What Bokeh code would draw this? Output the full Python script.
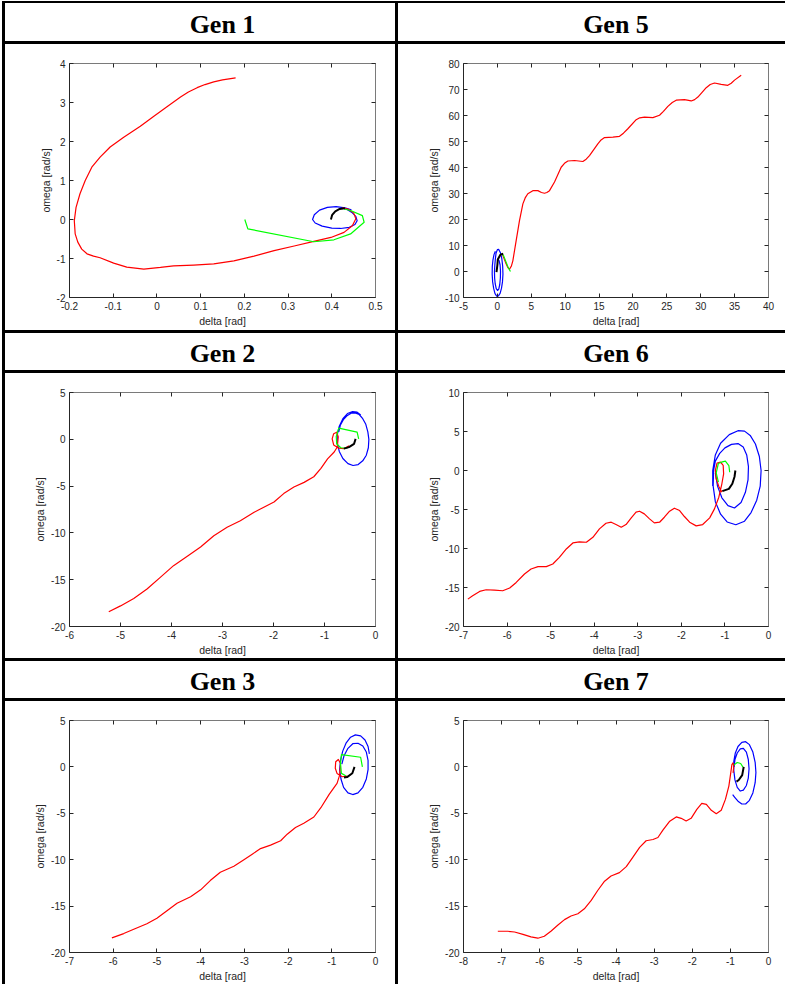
from bokeh.plotting import figure
from bokeh.models import Range1d, FixedTicker, CustomJSTickFormatter, LinearAxis, GridBox
from bokeh.core.properties import value
from bokeh.embed import file_html
from bokeh.resources import INLINE

# ---------------- data ----------------
titles = ["Gen 1", "Gen 5", "Gen 2", "Gen 6", "Gen 3", "Gen 7"]
x_label = "delta [rad]"
y_label = "omega [rad/s]"

g1_xlim = [-0.2, 0.5]
g1_ylim = [-2, 4]
g1_xticks = [-0.2, -0.1, 0, 0.1, 0.2, 0.3, 0.4, 0.5]
g1_yticks = [-2, -1, 0, 1, 2, 3, 4]
g1_red = [(0.18, 3.63), (0.15, 3.58), (0.13, 3.53), (0.11, 3.46), (0.092, 3.38), (0.072, 3.27),
          (0.054, 3.14), (0.023, 2.89), (-0.007, 2.65), (-0.038, 2.39), (-0.076, 2.11), (-0.107, 1.86),
          (-0.130, 1.60), (-0.149, 1.34), (-0.164, 1.0), (-0.176, 0.66), (-0.185, 0.31), (-0.189, -0.03),
          (-0.187, -0.37), (-0.181, -0.58), (-0.172, -0.76), (-0.160, -0.88), (-0.145, -0.94),
          (-0.130, -0.98), (-0.099, -1.12), (-0.069, -1.22), (-0.030, -1.27), (0.008, -1.23),
          (0.038, -1.19), (0.084, -1.17), (0.130, -1.14), (0.176, -1.06), (0.222, -0.94), (0.268, -0.80),
          (0.314, -0.68), (0.359, -0.56), (0.398, -0.46), (0.428, -0.33), (0.447, -0.16), (0.455, 0.02),
          (0.450, 0.17), (0.437, 0.27), (0.424, 0.30)]
g1_blue = [(0.445, 0.25), (0.43, 0.30), (0.41, 0.33), (0.39, 0.31), (0.372, 0.24), (0.36, 0.12),
           (0.356, 0.0), (0.362, -0.09), (0.378, -0.17), (0.40, -0.22), (0.42, -0.23), (0.44, -0.2),
           (0.453, -0.13), (0.458, -0.03), (0.455, 0.08), (0.447, 0.17), (0.436, 0.25), (0.428, 0.29)]
g1_green = [(0.201, 0.0), (0.208, -0.24), (0.359, -0.57), (0.405, -0.52), (0.443, -0.37),
            (0.474, -0.07), (0.470, 0.10), (0.443, 0.23), (0.428, 0.27)]
g1_black = [(0.398, 0.0), (0.401, 0.12), (0.408, 0.21), (0.418, 0.27), (0.43, 0.29)]

g5_xlim = [-5, 40]
g5_ylim = [-10, 80]
g5_xticks = [-5, 0, 5, 10, 15, 20, 25, 30, 35, 40]
g5_yticks = [-10, 0, 10, 20, 30, 40, 50, 60, 70, 80]
g5_red = [(0.71, 6.8), (1.2, 3.5), (1.54, 1.5), (1.79, 0.9), (2.05, 2.0), (2.28, 4.1), (2.77, 11.9),
          (3.26, 19.6), (3.76, 26.0), (4.1, 28.3), (4.49, 29.9), (5.23, 31.1), (5.97, 31.1), (6.5, 30.4),
          (6.95, 30.1), (7.3, 30.4), (7.69, 31.1), (8.43, 34.4), (9.41, 40.1), (9.9, 41.6), (10.40, 42.5),
          (11.38, 42.7), (12.61, 42.3), (13.1, 43.2), (13.59, 44.6), (14.82, 49.1), (15.3, 50.6),
          (15.81, 51.5), (17.04, 51.7), (18.02, 52.0), (18.6, 53.2), (19.25, 54.9), (20.48, 58.4),
          (21.0, 59.1), (21.71, 59.4), (22.94, 59.2), (23.92, 60.1), (24.5, 61.6), (25.15, 63.5),
          (25.8, 65.0), (26.38, 65.9), (27.61, 66.1), (28.60, 65.6), (29.1, 66.1), (29.58, 67.1),
          (30.2, 68.9), (30.81, 70.7), (31.4, 71.9), (32.04, 72.5), (33.02, 72.0), (34.0, 71.6),
          (34.5, 72.4), (34.99, 73.6), (35.97, 75.5)]
g5_blue = [(0.05, 4.9), (0.25, 4.2), (0.4, 2.5), (0.46, 0.0), (0.44, -2.5), (0.35, -5.0), (0.2, -6.8),
           (0.02, -7.3), (-0.17, -6.6), (-0.32, -4.8), (-0.41, -2.5), (-0.43, 0.0), (-0.38, 2.5),
           (-0.3, 4.8), (-0.2, 7.0), (0.0, 8.4), (0.2, 8.5), (0.45, 7.2), (0.65, 5.0), (0.78, 2.0),
           (0.82, -1.0), (0.75, -4.0), (0.6, -6.5), (0.4, -8.4), (0.15, -9.4), (-0.1, -9.5),
           (-0.35, -8.5), (-0.55, -6.5), (-0.7, -4.0), (-0.77, -1.0), (-0.75, 2.0), (-0.65, 4.5),
           (-0.5, 6.5), (-0.3, 7.8)]
g5_green = [(0.56, 6.8), (0.9, 6.2), (1.3, 3.5), (1.6, 1.5), (1.93, 0.0)]
g5_black = [(-0.13, -0.27), (0.0, 2.5), (0.06, 4.6), (0.46, 6.5), (0.86, 6.8)]

g2_xlim = [-6, 0]
g2_ylim = [-20, 5]
g2_xticks = [-6, -5, -4, -3, -2, -1, 0]
g2_yticks = [-20, -15, -10, -5, 0, 5]
g2_red = [(-5.23, -18.43), (-5.0, -17.8), (-4.74, -17.0), (-4.48, -16.0), (-4.22, -14.75), (-3.96, -13.5),
          (-3.69, -12.5), (-3.43, -11.5), (-3.17, -10.3), (-2.91, -9.4), (-2.65, -8.7), (-2.38, -7.8),
          (-2.19, -7.25), (-1.99, -6.7), (-1.80, -5.8), (-1.60, -5.1), (-1.40, -4.6), (-1.21, -4.0),
          (-1.07, -3.1), (-0.94, -2.1), (-0.81, -1.36), (-0.75, -0.82), (-0.73, 0.25), (-0.76, 0.76),
          (-0.82, 0.6), (-0.85, 0.05), (-0.82, -0.6), (-0.72, -0.95), (-0.62, -1.0), (-0.52, -0.7)]
g2_blue = [(-0.72, 0.8), (-0.69, 1.5), (-0.63, 2.1), (-0.55, 2.55), (-0.47, 2.8), (-0.40, 2.82),
           (-0.32, 2.65), (-0.25, 2.2), (-0.19, 1.6), (-0.15, 0.8), (-0.13, 0.0), (-0.14, -0.9),
           (-0.18, -1.7), (-0.25, -2.3), (-0.34, -2.7), (-0.44, -2.8), (-0.54, -2.6), (-0.64, -2.05),
           (-0.71, -1.3), (-0.75, -0.4), (-0.75, 0.5), (-0.71, 1.4), (-0.64, 2.2), (-0.55, 2.75),
           (-0.45, 2.95), (-0.36, 2.9), (-0.29, 2.6)]
g2_green = [(-0.55, -0.95), (-0.68, -0.9), (-0.76, -0.5), (-0.77, 0.3), (-0.72, 1.19), (-0.36, 0.76),
            (-0.33, 0.05)]
g2_black = [(-0.39, 0.05), (-0.42, -0.48), (-0.52, -0.84), (-0.62, -1.0)]

g6_xlim = [-7, 0]
g6_ylim = [-20, 10]
g6_xticks = [-7, -6, -5, -4, -3, -2, -1, 0]
g6_yticks = [-20, -15, -10, -5, 0, 5, 10]
g6_red = [(-6.90, -16.49), (-6.79, -16.06), (-6.63, -15.50), (-6.48, -15.29), (-6.29, -15.33),
          (-6.10, -15.42), (-5.94, -15.07), (-5.79, -14.35), (-5.60, -13.27), (-5.45, -12.63),
          (-5.29, -12.33), (-5.10, -12.33), (-4.95, -11.99), (-4.80, -11.13), (-4.64, -10.06),
          (-4.49, -9.29), (-4.34, -9.16), (-4.18, -9.20), (-4.03, -8.56), (-3.88, -7.49), (-3.73, -6.76),
          (-3.61, -6.63), (-3.50, -6.93), (-3.38, -7.27), (-3.27, -6.93), (-3.15, -6.07), (-3.04, -5.34),
          (-2.96, -5.22), (-2.85, -5.56), (-2.73, -6.20), (-2.62, -6.72), (-2.50, -6.63), (-2.39, -5.99),
          (-2.27, -5.22), (-2.16, -4.83), (-2.04, -5.13), (-1.93, -5.90), (-1.81, -6.63), (-1.66, -7.10),
          (-1.51, -6.93), (-1.35, -6.07), (-1.24, -4.92), (-1.14, -3.42), (-1.07, -1.70), (-1.03, -0.42),
          (-1.04, 0.66), (-1.10, 1.08), (-1.18, 0.96), (-1.22, 0.01), (-1.20, -1.06), (-1.14, -2.04),
          (-1.07, -2.77)]
g6_blue = [(-1.28, -2.0), (-1.28, 0.0), (-1.22, 2.0), (-1.1, 3.5), (-0.9, 4.6), (-0.7, 5.1), (-0.55, 5.05),
           (-0.42, 4.5), (-0.3, 3.4), (-0.21, 1.8), (-0.17, 0.0), (-0.19, -2.0), (-0.27, -3.8),
           (-0.4, -5.4), (-0.55, -6.5), (-0.75, -6.95), (-0.95, -6.6), (-1.1, -5.6), (-1.22, -4.0),
           (-1.27, -2.0), (-1.26, 0.0), (-1.22, 1.2), (-1.12, 2.2), (-1.0, 2.9), (-0.85, 3.35),
           (-0.7, 3.45), (-0.58, 3.0), (-0.5, 2.0), (-0.46, 0.5), (-0.47, -1.2), (-0.53, -2.8),
           (-0.63, -4.1), (-0.78, -4.8), (-0.93, -4.5), (-1.07, -3.5), (-1.17, -2.0), (-1.22, -0.3)]
g6_green = [(-1.15, -1.5), (-1.2, -0.3), (-1.15, 0.9), (-1.06, 1.1), (-0.99, 1.2), (-0.91, 0.64),
            (-0.89, -0.22)]
g6_black = [(-0.76, 0.0), (-0.78, -0.8), (-0.83, -1.7), (-0.91, -2.35), (-1.06, -2.65)]

g3_xlim = [-7, 0]
g3_ylim = [-20, 5]
g3_xticks = [-7, -6, -5, -4, -3, -2, -1, 0]
g3_yticks = [-20, -15, -10, -5, 0, 5]
g3_red = [(-6.03, -18.43), (-5.76, -17.96), (-5.53, -17.5), (-5.23, -16.9), (-5.0, -16.3), (-4.77, -15.5),
          (-4.54, -14.7), (-4.23, -14.0), (-4.0, -13.25), (-3.78, -12.25), (-3.55, -11.36), (-3.24, -10.7),
          (-3.01, -10.0), (-2.82, -9.4), (-2.63, -8.8), (-2.40, -8.43), (-2.17, -7.96), (-2.02, -7.25),
          (-1.83, -6.54), (-1.64, -6.07), (-1.41, -5.4), (-1.25, -4.4), (-1.06, -2.96), (-0.88, -1.77),
          (-0.82, -0.88), (-0.8, 0.37), (-0.85, 0.8), (-0.91, 0.55), (-0.92, -0.15), (-0.88, -0.7),
          (-0.76, -1.06), (-0.65, -0.99)]
g3_blue = [(-0.14, 1.4), (-0.17, 2.2), (-0.24, 2.9), (-0.34, 3.35), (-0.46, 3.45), (-0.57, 3.2),
           (-0.67, 2.6), (-0.75, 1.7), (-0.8, 0.7), (-0.82, -0.3), (-0.79, -1.3), (-0.73, -2.2),
           (-0.63, -2.8), (-0.52, -2.98), (-0.4, -2.8), (-0.29, -2.2), (-0.21, -1.3), (-0.17, -0.3),
           (-0.17, 0.7), (-0.21, 1.6), (-0.29, 2.25), (-0.4, 2.55), (-0.52, 2.5), (-0.63, 2.0),
           (-0.72, 1.2), (-0.77, 0.3)]
g3_green = [(-0.30, 0.0), (-0.34, 1.04), (-0.78, 1.32), (-0.8, 0.37), (-0.78, -0.7), (-0.68, -0.95)]
g3_black = [(-0.48, 0.0), (-0.53, -0.68), (-0.65, -1.1), (-0.72, -1.15)]

g7_xlim = [-8, 0]
g7_ylim = [-20, 5]
g7_xticks = [-8, -7, -6, -5, -4, -3, -2, -1, 0]
g7_yticks = [-20, -15, -10, -5, 0, 5]
g7_red = [(-7.10, -17.71), (-6.84, -17.71), (-6.66, -17.79), (-6.44, -18.04), (-6.23, -18.32),
          (-6.05, -18.46), (-5.88, -18.25), (-5.70, -17.68), (-5.53, -17.07), (-5.35, -16.46),
          (-5.18, -16.07), (-5.00, -15.82), (-4.83, -15.29), (-4.65, -14.39), (-4.48, -13.32),
          (-4.30, -12.32), (-4.13, -11.75), (-3.91, -11.39), (-3.73, -10.75), (-3.56, -9.75),
          (-3.38, -8.68), (-3.21, -7.96), (-3.03, -7.82), (-2.90, -7.61), (-2.77, -6.82), (-2.60, -5.89),
          (-2.42, -5.39), (-2.29, -5.54), (-2.16, -5.82), (-2.03, -5.54), (-1.88, -4.57), (-1.75, -3.93),
          (-1.63, -4.04), (-1.50, -4.68), (-1.37, -5.04), (-1.24, -4.68), (-1.13, -3.50), (-1.04, -2.07),
          (-0.99, -0.64), (-0.96, 0.25), (-0.93, 0.43), (-0.91, 0.07), (-0.93, -0.64)]
g7_blue = [(-0.9, 0.0), (-0.88, 0.8), (-0.82, 1.5), (-0.74, 1.95), (-0.66, 2.0), (-0.58, 1.6),
           (-0.53, 0.8), (-0.51, -0.2), (-0.53, -1.2), (-0.58, -2.0), (-0.66, -2.5), (-0.74, -2.6),
           (-0.82, -2.2), (-0.88, -1.4), (-0.91, -0.4), (-0.91, 0.6), (-0.87, 1.5), (-0.8, 2.2),
           (-0.7, 2.65), (-0.6, 2.72), (-0.5, 2.4), (-0.41, 1.6), (-0.35, 0.5), (-0.33, -0.6),
           (-0.35, -1.7), (-0.41, -2.8), (-0.5, -3.6), (-0.6, -4.0), (-0.7, -4.0), (-0.8, -3.7),
           (-0.88, -3.3), (-0.94, -3.0)]
g7_green = [(-0.91, 0.19), (-0.82, 0.47), (-0.73, 0.37), (-0.67, -0.02)]
g7_black = [(-0.65, 0.0), (-0.69, -0.88), (-0.78, -1.41), (-0.84, -1.59)]

# ---------------- styling ----------------
AX = "#262626"
BOX = "#7a7a7a"
COL_W = [390, 387]
BORDER_L = [64, 65]
BORDER_R = [20, 17]
HEAD_H = [38, 37, 37]
PLOT_H = [286, 285, 283]
WHITE = {"background-color": "white"}


def add_axes(p, xt, yt):
    lab_fmt = CustomJSTickFormatter(code="return Number(tick.toFixed(6)).toString();")
    for side in ["below", "left", "above", "right"]:
        horiz = side in ("below", "above")
        ax = LinearAxis(ticker=FixedTicker(ticks=xt if horiz else yt))
        ax.major_tick_in = 4
        ax.major_tick_out = 0
        ax.minor_tick_line_color = None
        ax.major_tick_line_color = AX
        if side in ("below", "left"):
            ax.formatter = lab_fmt
            ax.axis_line_color = AX
            ax.major_label_text_font = "Liberation Sans"
            ax.major_label_text_font_size = "10px"
            ax.major_label_text_color = AX
            ax.major_label_standoff = 4
            ax.axis_label = x_label if horiz else y_label
            ax.axis_label_text_font = "Liberation Sans"
            ax.axis_label_text_font_size = "10.5px"
            ax.axis_label_text_font_style = "normal"
            ax.axis_label_text_color = AX
            ax.axis_label_standoff = 2
        else:
            ax.formatter = CustomJSTickFormatter(code="return '';")
            ax.axis_line_color = BOX
            ax.major_label_standoff = 0
            ax.major_label_text_font_size = "10px"
        p.add_layout(ax, side)


def make_header(title, w, h_px):
    h = figure(width=w, height=h_px, x_range=Range1d(0, 1), y_range=Range1d(0, 1),
               x_axis_type=None, y_axis_type=None, toolbar_location=None,
               output_backend="svg", min_border=0, styles=WHITE)
    h.outline_line_color = None
    h.grid.visible = False
    h.text(x=[0.5], y=[0.45], text=[title], text_font=value("Liberation Serif"),
           text_font_style="bold", text_font_size="26px", text_align="center",
           text_baseline="middle", text_color="black")
    return h


def make_plot(col, h_px, xlim, ylim, xt, yt, red, blue, green, black):
    p = figure(width=COL_W[col], height=h_px, x_range=Range1d(*xlim), y_range=Range1d(*ylim),
               x_axis_type=None, y_axis_type=None, toolbar_location=None, output_backend="svg",
               min_border_left=BORDER_L[col], min_border_right=BORDER_R[col],
               min_border_top=19, min_border_bottom=h_px - 19 - 234, styles=WHITE)
    p.outline_line_color = None
    p.grid.visible = False
    add_axes(p, xt, yt)
    for pts, color, lw in [(blue, "#0000ff", 1.2), (red, "#ff0000", 1.2),
                           (green, "#00ff00", 1.2), (black, "#000000", 2.0)]:
        xs = [a for a, b in pts]
        ys = [b for a, b in pts]
        p.line(xs, ys, line_color=color, line_width=lw, line_join="round")
    return p


panels = [
    (titles[0], 0, g1_xlim, g1_ylim, g1_xticks, g1_yticks, g1_red, g1_blue, g1_green, g1_black),
    (titles[1], 1, g5_xlim, g5_ylim, g5_xticks, g5_yticks, g5_red, g5_blue, g5_green, g5_black),
    (titles[2], 0, g2_xlim, g2_ylim, g2_xticks, g2_yticks, g2_red, g2_blue, g2_green, g2_black),
    (titles[3], 1, g6_xlim, g6_ylim, g6_xticks, g6_yticks, g6_red, g6_blue, g6_green, g6_black),
    (titles[4], 0, g3_xlim, g3_ylim, g3_xticks, g3_yticks, g3_red, g3_blue, g3_green, g3_black),
    (titles[5], 1, g7_xlim, g7_ylim, g7_xticks, g7_yticks, g7_red, g7_blue, g7_green, g7_black),
]

children = []
for i, (title, col, xl, yl, xt, yt, r, b, g, k) in enumerate(panels):
    band = i // 2
    children.append((make_header(title, COL_W[col], HEAD_H[band]), band * 2, col))
    children.append((make_plot(col, PLOT_H[band], xl, yl, xt, yt, r, b, g, k), band * 2 + 1, col))

grid = GridBox(children=children, spacing=3,
               styles={"background-color": "black", "padding": "2px 0px 0px 3px",
                       "margin": "1px 0px 0px 2px"})

open("out.html", "w").write(file_html(grid, INLINE))
